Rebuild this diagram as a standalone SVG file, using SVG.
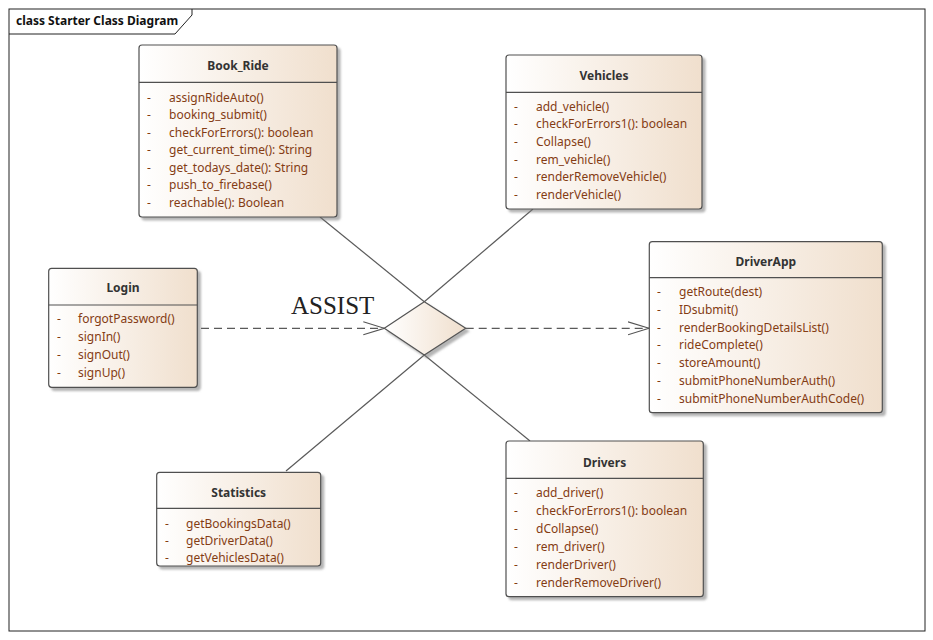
<svg xmlns="http://www.w3.org/2000/svg" width="933" height="640" viewBox="0 0 933 640">
<defs>
<linearGradient id="g" x1="0" y1="0" x2="1" y2="0">
<stop offset="0" stop-color="#FFFFFF"/>
<stop offset="1" stop-color="#F0DFCD"/>
</linearGradient>
<filter id="sh" x="-10%" y="-10%" width="130%" height="130%">
<feDropShadow dx="3" dy="3" stdDeviation="1.2" flood-color="#777" flood-opacity="0.55"/>
</filter>
<marker id="open" viewBox="0 0 22 16" refX="21" refY="8" markerWidth="22" markerHeight="16" markerUnits="userSpaceOnUse" orient="auto">
<path d="M0,1.5 L21,8 L0,14.5" fill="none" stroke="#555" stroke-width="1.2"/>
</marker>
</defs>
<style>
.box{fill:url(#g);stroke:#505050;stroke-width:1.2;filter:url(#sh)}
.sep{stroke:#505050;stroke-width:1.2}
.title{font-family:"Noto Sans","Open Sans",sans-serif;font-size:12px;font-weight:bold;fill:#333;text-anchor:middle}
.op{font-family:"Noto Sans","Open Sans",sans-serif;font-size:12px;fill:#843C14}
.conn{stroke:#5a5a5a;stroke-width:1.2;fill:none}
.dash{stroke:#5a5a5a;stroke-width:1.2;fill:none;stroke-dasharray:8 5}
</style>
<rect x="0" y="0" width="933" height="640" fill="#fff"/>
<g id="frame">
<rect x="9" y="9" width="916" height="622" fill="none" stroke="#222" stroke-width="1"/>
<path d="M9,34 L175,34 L192,15 L192,9" fill="none" stroke="#222" stroke-width="1"/>
<text x="16" y="25" font-family="Noto Sans,Open Sans,sans-serif" font-size="12" font-weight="bold" fill="#111">class Starter Class Diagram</text>
</g>
<g id="connectors">
<line class="conn" x1="320" y1="217" x2="424.3" y2="301.7"/>
<line class="conn" x1="533" y1="209" x2="424.3" y2="301.7"/>
<line class="conn" x1="286" y1="471" x2="424.3" y2="355"/>
<line class="conn" x1="530" y1="441" x2="424.3" y2="355"/>
<line class="dash" x1="201" y1="328.3" x2="384.3" y2="328.3" marker-end="url(#open)"/>
<line class="dash" x1="465.7" y1="328.3" x2="649" y2="328.3" marker-end="url(#open)"/>
</g>
<g id="assist">
<path d="M384.3,328.3 L424.3,301.7 L465.7,328.3 L424.3,355 Z" fill="url(#g)" stroke="#555" stroke-width="1.2" filter="url(#sh)"/>
<text x="291" y="313.5" font-family="Liberation Serif,serif" font-size="25" fill="#222">ASSIST</text>
</g>
<g id="Book_Ride">
<rect class="box" x="139" y="45" width="198" height="172" rx="3"/>
<line class="sep" x1="139" y1="82.3" x2="337" y2="82.3"/>
<text class="title" x="238" y="70">Book_Ride</text>
<g class="op">
<text x="147" y="101.5">-</text><text x="169" y="101.5">assignRideAuto()</text>
<text x="147" y="119">-</text><text x="169" y="119">booking_submit()</text>
<text x="147" y="136.5">-</text><text x="169" y="136.5">checkForErrors(): boolean</text>
<text x="147" y="154">-</text><text x="169" y="154">get_current_time(): String</text>
<text x="147" y="171.5">-</text><text x="169" y="171.5">get_todays_date(): String</text>
<text x="147" y="189">-</text><text x="169" y="189">push_to_firebase()</text>
<text x="147" y="206.5">-</text><text x="169" y="206.5">reachable(): Boolean</text>
</g>
</g>
<g id="Vehicles">
<rect class="box" x="506" y="55" width="196" height="154" rx="3"/>
<line class="sep" x1="506" y1="92.3" x2="702" y2="92.3"/>
<text class="title" x="604" y="80">Vehicles</text>
<g class="op">
<text x="514" y="110.5">-</text><text x="536" y="110.5">add_vehicle()</text>
<text x="514" y="128.2">-</text><text x="536" y="128.2">checkForErrors1(): boolean</text>
<text x="514" y="145.9">-</text><text x="536" y="145.9">Collapse()</text>
<text x="514" y="163.6">-</text><text x="536" y="163.6">rem_vehicle()</text>
<text x="514" y="181.3">-</text><text x="536" y="181.3">renderRemoveVehicle()</text>
<text x="514" y="199">-</text><text x="536" y="199">renderVehicle()</text>
</g>
</g>
<g id="DriverApp">
<rect class="box" x="649.3" y="241.7" width="233" height="171" rx="3"/>
<line class="sep" x1="649.3" y1="277.7" x2="882.3" y2="277.7"/>
<text class="title" x="765.8" y="266">DriverApp</text>
<g class="op">
<text x="657" y="296">-</text><text x="679" y="296">getRoute(dest)</text>
<text x="657" y="313.8">-</text><text x="679" y="313.8">IDsubmit()</text>
<text x="657" y="331.6">-</text><text x="679" y="331.6">renderBookingDetailsList()</text>
<text x="657" y="349.4">-</text><text x="679" y="349.4">rideComplete()</text>
<text x="657" y="367.2">-</text><text x="679" y="367.2">storeAmount()</text>
<text x="657" y="385">-</text><text x="679" y="385">submitPhoneNumberAuth()</text>
<text x="657" y="402.8">-</text><text x="679" y="402.8">submitPhoneNumberAuthCode()</text>
</g>
</g>
<g id="Login">
<rect class="box" x="48.7" y="268.3" width="148.6" height="119" rx="3"/>
<line class="sep" x1="48.7" y1="305" x2="197.3" y2="305"/>
<text class="title" x="123" y="292.3">Login</text>
<g class="op">
<text x="57" y="323.3">-</text><text x="78" y="323.3">forgotPassword()</text>
<text x="57" y="341">-</text><text x="78" y="341">signIn()</text>
<text x="57" y="358.8">-</text><text x="78" y="358.8">signOut()</text>
<text x="57" y="376.6">-</text><text x="78" y="376.6">signUp()</text>
</g>
</g>
<g id="Statistics">
<rect class="box" x="156.7" y="472.3" width="164" height="93.7" rx="3"/>
<line class="sep" x1="156.7" y1="508.3" x2="320.7" y2="508.3"/>
<text class="title" x="238.7" y="496.7">Statistics</text>
<g class="op">
<text x="165" y="527.5">-</text><text x="186" y="527.5">getBookingsData()</text>
<text x="165" y="545">-</text><text x="186" y="545">getDriverData()</text>
<text x="165" y="562">-</text><text x="186" y="562">getVehiclesData()</text>
</g>
</g>
<g id="Drivers">
<rect class="box" x="506" y="441" width="197.3" height="155.7" rx="3"/>
<line class="sep" x1="506" y1="478.3" x2="703.3" y2="478.3"/>
<text class="title" x="604.6" y="466.7">Drivers</text>
<g class="op">
<text x="514" y="497.3">-</text><text x="536" y="497.3">add_driver()</text>
<text x="514" y="515.2">-</text><text x="536" y="515.2">checkForErrors1(): boolean</text>
<text x="514" y="533.1">-</text><text x="536" y="533.1">dCollapse()</text>
<text x="514" y="551">-</text><text x="536" y="551">rem_driver()</text>
<text x="514" y="568.9">-</text><text x="536" y="568.9">renderDriver()</text>
<text x="514" y="586.7">-</text><text x="536" y="586.7">renderRemoveDriver()</text>
</g>
</g>
</svg>
